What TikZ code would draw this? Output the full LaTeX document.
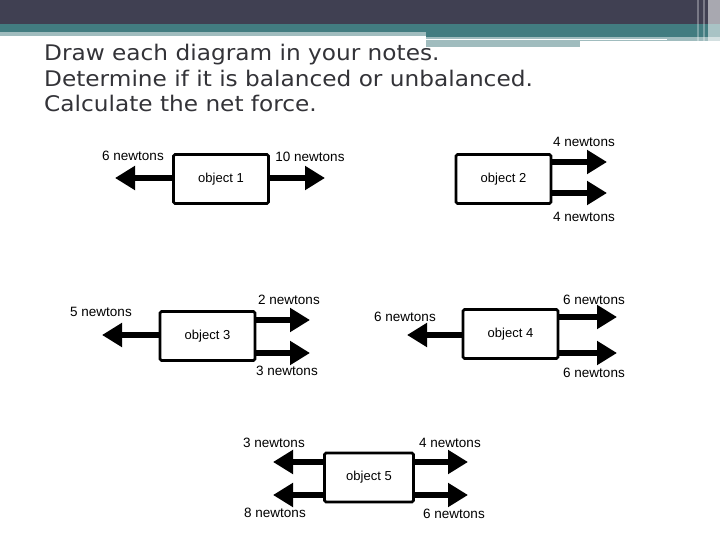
\documentclass[tikz,border=0pt]{standalone}
\usepackage{fontspec}
\setmainfont{Liberation Sans}
\newfontfamily\titlefont[FakeStretch=1.08]{DejaVu Sans}
\usetikzlibrary{arrows.meta}
\definecolor{headdark}{RGB}{64,64,82}
\definecolor{headteal}{RGB}{66,124,128}
\definecolor{headlight}{RGB}{160,188,190}
\definecolor{titlegray}{RGB}{51,51,56}

\begin{document}
\begin{tikzpicture}[x=1pt, y=-1pt,
		obj/.style={draw, line width=2.6pt, fill=white, minimum width=95pt, minimum height=49pt, rounded corners=1.5pt, inner sep=0pt, font=\fontsize{13}{15}\selectfont},
		force/.style={line width=6.5pt, -{Triangle[length=20pt, width=23pt]}},
		lbl/.style={inner sep=0pt, font=\fontsize{13.5}{15}\selectfont},
		title/.style={anchor=base west, inner sep=0pt, text=titlegray, font=\titlefont\fontsize{21.5}{25}\selectfont}
		]
		\useasboundingbox (0,0) rectangle (720,540);
		
		% Header bands
		\fill[headdark] (0,0) rectangle (720,24);
		\fill[headteal] (0,24) rectangle (720,32);
		\fill[headlight] (0,32) rectangle (426,36);
		\fill[headteal] (426,32) rectangle (720,37);
		\fill[headlight] (426,37) rectangle (720,41);
		\fill[headlight] (426,41) rectangle (580,47);
		\fill[white] (426,39) rectangle (667,40.5);
		\fill[white, opacity=0.3] (697,0) rectangle (699,50);
		\fill[white, opacity=0.3] (703,0) rectangle (705,50);
		\fill[white, opacity=0.55] (708,0) rectangle (720,50);
		
		% Title
		\node[title] (title1) at (44,61) {Draw each diagram in your notes.};
		\node[title] (title2) at (44,86.5) {Determine if it is balanced or unbalanced.};
		\node[title] (title3) at (44,112) {Calculate the net force.};
		
		% Object 1
		\node[obj] (obj1) at (221,179) {object 1};
		\coordinate (tip1l) at (115,178);
		\coordinate (tip1r) at (325,178);
		\draw[force] (obj1.west |- tip1l) -- (tip1l);
		\draw[force] (obj1.east |- tip1r) -- (tip1r);
		\node[lbl] (f1l) at (133,156) {6 newtons};
		\node[lbl] (f1r) at (310,157) {10 newtons};
		
		% Object 2
		\node[obj] (obj2) at (503.5,179) {object 2};
		\coordinate (tip2a) at (607,162);
		\coordinate (tip2b) at (607,193);
		\draw[force] (obj2.east |- tip2a) -- (tip2a);
		\draw[force] (obj2.east |- tip2b) -- (tip2b);
		\node[lbl] (f2a) at (584,142) {4 newtons};
		\node[lbl] (f2b) at (584,217) {4 newtons};
		
		% Object 3
		\node[obj] (obj3) at (207.5,336) {object 3};
		\coordinate (tip3l) at (102,335);
		\coordinate (tip3a) at (310,320);
		\coordinate (tip3b) at (310,353);
		\draw[force] (obj3.west |- tip3l) -- (tip3l);
		\draw[force] (obj3.east |- tip3a) -- (tip3a);
		\draw[force] (obj3.east |- tip3b) -- (tip3b);
		\node[lbl] (f3l) at (101,312) {5 newtons};
		\node[lbl] (f3a) at (289,300) {2 newtons};
		\node[lbl] (f3b) at (287,371) {3 newtons};
		
		% Object 4
		\node[obj] (obj4) at (510.5,334) {object 4};
		\coordinate (tip4l) at (407,335);
		\coordinate (tip4a) at (617,317);
		\coordinate (tip4b) at (617,353);
		\draw[force] (obj4.west |- tip4l) -- (tip4l);
		\draw[force] (obj4.east |- tip4a) -- (tip4a);
		\draw[force] (obj4.east |- tip4b) -- (tip4b);
		\node[lbl] (f4l) at (405,317) {6 newtons};
		\node[lbl] (f4a) at (594,300) {6 newtons};
		\node[lbl] (f4b) at (594,373) {6 newtons};
		
		% Object 5
		\node[obj, minimum width=89pt] (obj5) at (369,477.5) {object 5};
		\coordinate (tip5la) at (273,462);
		\coordinate (tip5lb) at (273,495);
		\coordinate (tip5ra) at (468,462);
		\coordinate (tip5rb) at (468,495);
		\draw[force] (obj5.west |- tip5la) -- (tip5la);
		\draw[force] (obj5.west |- tip5lb) -- (tip5lb);
		\draw[force] (obj5.east |- tip5ra) -- (tip5ra);
		\draw[force] (obj5.east |- tip5rb) -- (tip5rb);
		\node[lbl] (f5la) at (274,443) {3 newtons};
		\node[lbl] (f5ra) at (450,443) {4 newtons};
		\node[lbl] (f5lb) at (275,513) {8 newtons};
		\node[lbl] (f5rb) at (454,514) {6 newtons};
		
	\end{tikzpicture}
\end{document}
